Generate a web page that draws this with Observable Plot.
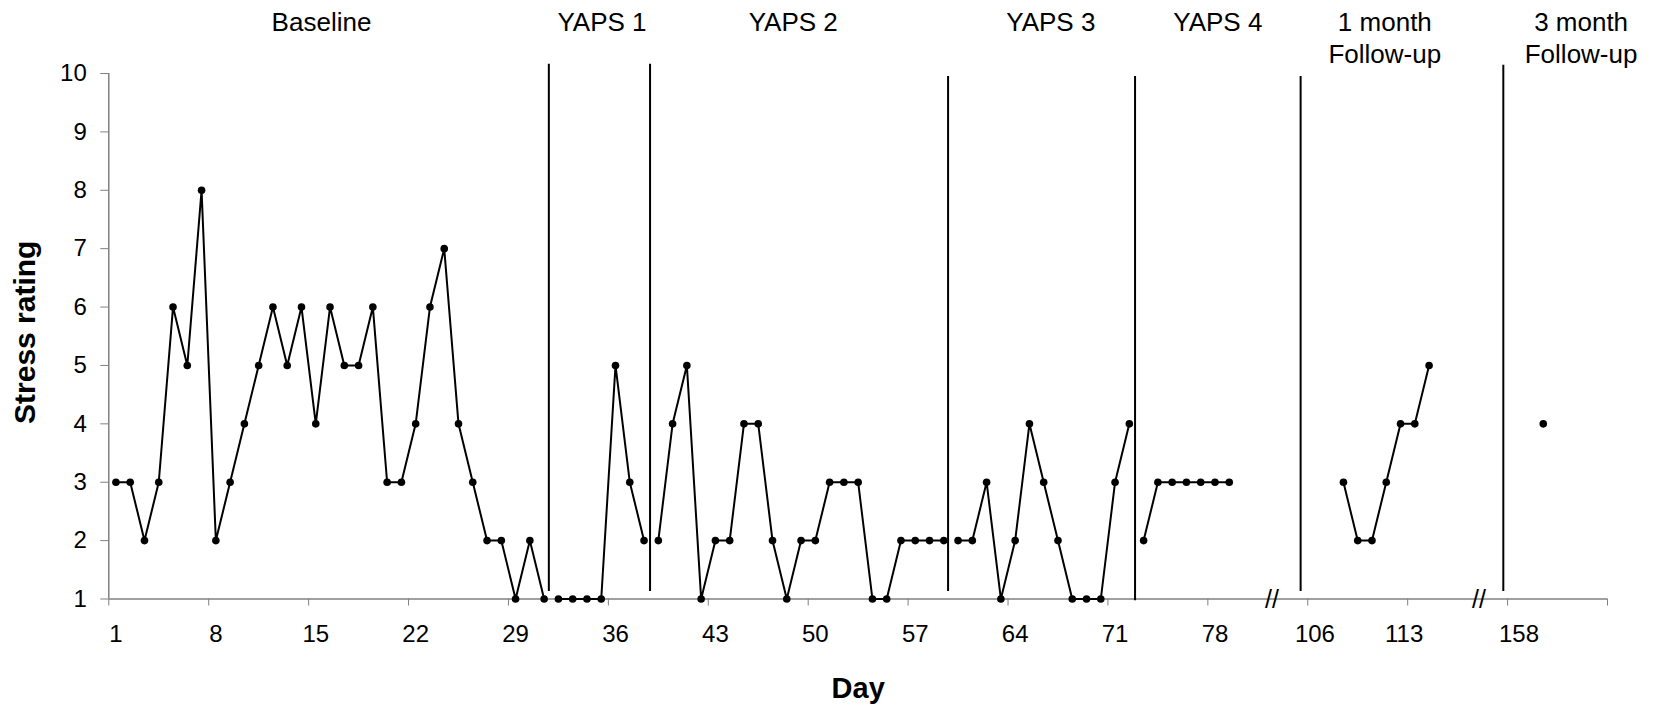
<!DOCTYPE html>
<html>
<head>
<meta charset="utf-8">
<script src="https://cdn.jsdelivr.net/npm/d3@7"></script>
<script src="https://cdn.jsdelivr.net/npm/@observablehq/plot@0.6"></script>
<style>
  html, body { margin: 0; padding: 0; background: #fff; }
  svg { display: block; }
</style>
</head>
<body>
<div id="chart"></div>
<script>
// ---- data (stress rating per day, by phase) ----
const phaseNames = ["Baseline", "YAPS 1", "YAPS 2", "YAPS 3", "YAPS 4", "1 month\nFollow-up", "3 month\nFollow-up"];
// first category slot of each phase on the (broken) day axis
const phaseStartSlot = [0, 31, 38, 59, 72, 86, 100];
const baseline  = [3,3,2,3,6,5,8,2,3,4,5,6,5,6,4,6,5,5,6,3,3,4,6,7,4,3,2,2,1,2,1]; // days 1-31
const yaps1     = [1,1,1,1,5,3,2];                                   // days 32-38
const yaps2     = [2,4,5,1,2,2,4,4,2,1,2,2,3,3,3,1,1,2,2,2,2];       // days 39-59
const yaps3     = [2,2,3,1,2,4,3,2,1,1,1,3,4];                       // days 60-72
const yaps4     = [2,3,3,3,3,3,3];                                   // days 73-79
const followUp1 = [3,2,2,3,4,4,5];                                   // days 108-114
const followUp3 = [4];                                               // day 160
const phaseValues = [baseline, yaps1, yaps2, yaps3, yaps4, followUp1, followUp3];

// phase label centres (category slots)
const phaseLabelSlot = [14.9, 34.55, 47.95, 66.0, 77.7, 89.4, 103.15];

// phase-change lines (category slots) and their vertical extent (rating units)
const phaseLineSlot   = [30.83, 37.92, 58.8, 71.9, 83.5, 97.7];
const phaseLineTop    = [10.16, 10.16, 9.95, 9.95, 9.95, 10.14];
const phaseLineBottom = [1.13, 1.13, 1.13, 0.97, 1.13, 1.13];

// axis break marks (category slots)
const breakSlot = [81.5, 96.0];

// x axis: tick marks every 7 slots; labels
const xTickSlot  = d3.range(0, 106, 7);
const xLabels    = ["1","8","15","22","29","36","43","50","57","64","71","78","106","113","158"];
const xLabelSlot = [0.5,7.5,14.5,21.5,28.5,35.5,42.5,49.5,56.5,63.5,70.5,77.5,84.5,90.75,98.8];
const yTicks     = [1,2,3,4,5,6,7,8,9,10];

// ---- build table ----
const rows = [];
phaseValues.forEach((vals, p) => {
  vals.forEach((v, i) => rows.push({phase: p, slot: phaseStartSlot[p] + i + 0.5, value: v}));
});
const labelMap = new Map(xLabelSlot.map((s, i) => [s, xLabels[i]]));
const phaseLines = phaseLineSlot.map((s, i) => ({slot: s, top: phaseLineTop[i], bottom: phaseLineBottom[i]}));
const phaseLabels = phaseNames.map((n, i) => ({name: n, slot: phaseLabelSlot[i]}));

const grey = "#808080";
const font = "'Liberation Sans', Arial, Helvetica, sans-serif";

const chart = Plot.plot({
  width: 1659,
  height: 707,
  marginLeft: 108.3,
  marginRight: 52,
  marginTop: 73,
  marginBottom: 108.5,
  x: {domain: [0, 105]},
  y: {domain: [1, 10]},
  style: {fontFamily: font, background: "#fff", color: "#000", overflow: "visible"},
  marks: [
    // axis lines
    Plot.ruleX([0], {stroke: grey, strokeWidth: 1.5}),
    Plot.ruleY([1], {stroke: grey, strokeWidth: 1.5}),
    // y axis ticks + labels
    Plot.axisY({ticks: yTicks, tickSize: 8, tickPadding: 14, stroke: grey, fill: "#000",
                fontSize: 24, label: null, tickFormat: d => String(d)}),
    // x tick marks
    Plot.axisX({ticks: xTickSlot, tickSize: 7, stroke: grey, tickFormat: () => "", label: null}),
    // x tick labels (centred on categories)
    Plot.axisX({ticks: xLabelSlot, tickSize: 0, tickPadding: 26, fontSize: 24, fill: "#000",
                tickFormat: d => labelMap.get(d), label: null}),
    // axis break marks
    Plot.text(breakSlot, {x: d => d, y: () => 1, text: () => "//", fontSize: 25, dy: 1, fill: "#000"}),
    // phase change lines
    Plot.ruleX(phaseLines, {x: "slot", y1: "top", y2: "bottom", stroke: "#000", strokeWidth: 2}),
    // data
    Plot.line(rows, {x: "slot", y: "value", z: "phase", stroke: "#000", strokeWidth: 2}),
    Plot.dot(rows, {x: "slot", y: "value", r: 3.8, fill: "#000", stroke: null}),
    // phase labels
    Plot.text(phaseLabels, {x: "slot", text: "name", frameAnchor: "top", lineAnchor: "top",
                            dy: -65, fontSize: 26, lineHeight: 1.22, fill: "#000"}),
    // axis titles
    Plot.text(["Stress rating"], {frameAnchor: "left", textAnchor: "middle", lineAnchor: "middle",
                                  rotate: -90, dx: -83, dy: -4,
                                  fontSize: 30, fontWeight: "bold", fill: "#000"}),
    Plot.text(["Day"], {frameAnchor: "bottom", lineAnchor: "middle", dy: 90, fontSize: 29,
                        fontWeight: "bold", fill: "#000"})
  ]
});
document.getElementById("chart").appendChild(chart);
</script>
</body>
</html>
